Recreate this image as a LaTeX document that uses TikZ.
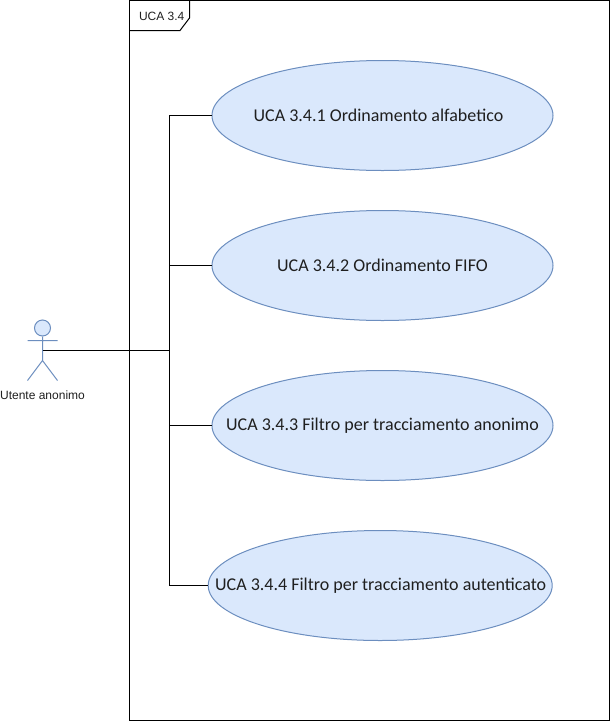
\documentclass[tikz,border=0pt]{standalone}
\usepackage{fontspec}
\setmainfont{Liberation Sans}
\newfontfamily\ucfont{Carlito}
\usetikzlibrary{shapes.geometric}
\definecolor{ucfill}{HTML}{DAE8FC}
\definecolor{ucline}{HTML}{6C8EBF}
\newcommand{\uctext}[1]{\makebox[0pt]{#1}}
\tikzset{
  x=1pt,y=-1pt,
  usecase/.style={ellipse,draw=ucline,fill=ucfill,line width=1pt,inner sep=0pt,outer sep=0pt,minimum height=110pt,text=black!88,font=\ucfont\fontsize{18}{21}\selectfont},
  conn/.style={draw=black,line width=1pt},
  actorline/.style={draw=ucline,line width=1pt},
  small/.style={font=\fontsize{12}{14}\selectfont,text=black!88,inner sep=0pt}
}
\begin{document}
\begin{tikzpicture}
\useasboundingbox (0,0) rectangle (610,721);
% frame
\draw[conn] (129.5,0.5) rectangle (609.5,720.5);
\draw[conn] (129.5,30.5) -- (180,30.5) -- (189.5,18) -- (189.5,0.5);
\node[small,anchor=west] (title) at (138.8,16) {UCA 3.4};
% use cases
\node[usecase,minimum width=341pt] (uc1) at (382.5,115.5) {\uctext{UCA 3.4.1 Ordinamento alfabetico\hspace*{8pt}}};
\node[usecase,minimum width=341pt] (uc2) at (382.5,265.5) {\uctext{UCA 3.4.2 Ordinamento FIFO}};
\node[usecase,minimum width=341pt] (uc3) at (382.5,425.5) {\uctext{UCA 3.4.3 Filtro per tracciamento anonimo}};
\node[usecase,minimum width=344pt] (uc4) at (380.2,585.5) {\uctext{\hspace*{1pt}UCA 3.4.4 Filtro per tracciamento autenticato}};
% actor
\node[circle,draw=ucline,fill=ucfill,line width=1pt,minimum size=16pt,inner sep=0pt] (head) at (42.5,328) {};
\coordinate (hip) at (42.5,360.5);
\coordinate (armL) at (27.5,340.5);
\coordinate (armR) at (57.5,340.5);
\coordinate (legL) at (27.5,380.5);
\coordinate (legR) at (57.5,380.5);
\coordinate (actor) at (42.5,350.5);
\coordinate (bus) at (169.5,350.5);
\draw[actorline] (head.south) -- (hip) (armL) -- (armR) (legL) -- (hip) -- (legR);
\node[small] (actorlabel) at (42.5,395) {Utente anonimo};
% connectors
\draw[conn] (actor) -- (bus);
\draw[conn] (bus) |- (uc1.west);
\draw[conn] (bus) |- (uc2.west);
\draw[conn] (bus) |- (uc3.west);
\draw[conn] (bus) |- (uc4.west);
\end{tikzpicture}
\end{document}
